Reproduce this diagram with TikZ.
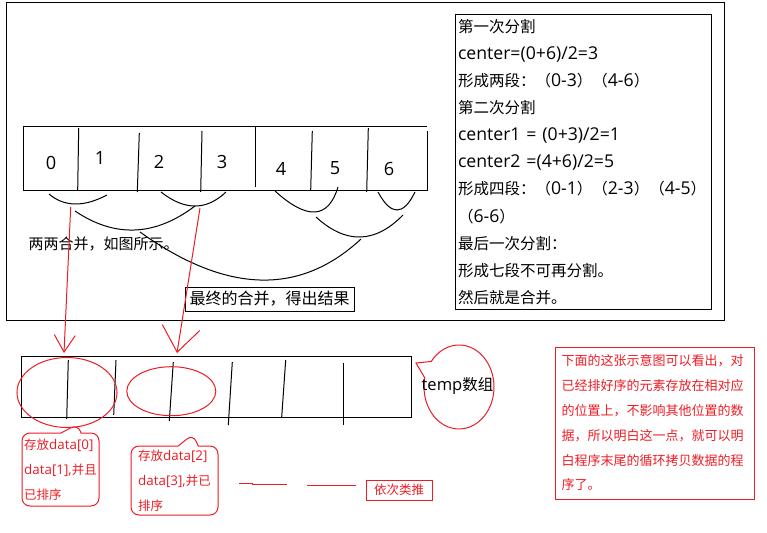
\documentclass[tikz,border=0pt]{standalone}
\usepackage{fontspec}
\setmainfont{Open Sans}[Scale=1.07]
\newfontfamily\zhfont{Noto Sans CJK SC}
\newcommand\zh[1]{{\zhfont #1}}
\newcommand\zhs[1]{{\zhfont\fontsize{15.5}{27.1}\selectfont #1}}
\usetikzlibrary{arrows.meta,shapes.geometric,shapes.callouts}
\definecolor{paintred}{RGB}{237,28,36}
\begin{document}
\begin{tikzpicture}[x=1pt,y=-1pt,line width=1pt,
        digit/.style={font=\fontsize{17}{17}\selectfont},
        redline/.style={draw=paintred},
        bubble/.style={rectangle callout,draw=paintred,rounded corners=8pt,callout pointer width=20pt,
            inner sep=0pt,text=paintred,align=left,font=\fontsize{12.5}{25}\selectfont}]
        \useasboundingbox (0,0) rectangle (767,532);
        \draw (6,3) rectangle (724,320);
        \node[draw,minimum width=256pt,minimum height=294pt,text width=250pt,inner xsep=3pt,align=left,
            font=\fontsize{16.5}{27.1}\selectfont] (steps) at (583,162)
            {\zhs{第一次分割}\\center=(0+6)/2=3\\\zhs{形成两段：（}0-3\zhs{）（}4-6\zhs{）}\\\zhs{第二次分割}\\center1 = (0+3)/2=1\\center2 =(4+6)/2=5\\\mbox{\zhs{形成四段：（}0-1\zhs{）（}2-3\zhs{）（}4-5\zhs{）}}\\\zhs{（}6-6\zhs{）}\\\zhs{最后一次分割：}\\\zhs{形成七段不可再分割。}\\\zhs{然后就是合并。}};
        \draw (427,131) -- (427,190) -- (23,190) -- (23,126) -- (427,126);
        \foreach \xa/\ya/\xb/\yb in {78.7/128/77.7/190, 139.3/133/137.3/192, 202/131/200.7/192,
            255/127/255/187, 312.3/131/310.7/190, 368.3/128/366.7/192}
            \draw (\xa,\ya) -- (\xb,\yb);
        \foreach \d/\x/\y in {0/51/163, 1/100/158, 2/159/162, 3/222/162, 4/281/169, 5/335/168, 6/389/169}
            \node[digit] (cell\d) at (\x,\y) {\d};
        \draw (49,194) .. controls (64.3,207) and (83.7,207.3) .. (107,195);
        \draw (161,192) .. controls (184.7,210.7) and (206.3,210.7) .. (226,192);
        \draw (275,191) .. controls (307.3,220.3) and (328.3,219) .. (338,187);
        \draw (378,192) .. controls (391,216) and (403.3,216) .. (415,192);
        \draw (75,211) .. controls (115,238) and (155,236.3) .. (195,206);
        \draw (316,217) .. controls (345.7,244.3) and (375,243.7) .. (403,215);
        \draw (140,232) .. controls (226.3,293.7) and (299.7,296) .. (361,239);
        \node[anchor=west,inner sep=0pt,font=\zhfont\fontsize{15}{15}\selectfont] (pairs) at (28,244) {两两合并，如图所示。};
        \node[draw,minimum width=169pt,minimum height=24pt,inner sep=0pt,font=\zhfont\fontsize{16}{16}\selectfont] (final) at (269.5,299) {最终的合并，得出结果};
        \coordinate (join01) at (70.7,207);
        \coordinate (join23) at (200,208);
        \coordinate (slot01) at (64,353);
        \coordinate (slot23) at (177,353);
        \draw[redline,-{Straight Barb[length=17pt,width=21pt]}] (join01) -- (slot01);
        \draw[redline,-{Straight Barb[length=25pt,width=38pt]}] (join23) -- (slot23);
        \draw (21,356) rectangle (411,417);
        \foreach \xa/\ya/\xb/\yb in {68.3/360/66.7/419, 116/360/113.7/415, 173.3/362/169.3/421,
            232.3/362/228.3/425, 285.7/360/281.7/417, 343.3/363/343.3/425}
            \draw (\xa,\ya) -- (\xb,\yb);
        \node[ellipse,draw=paintred,minimum width=100pt,minimum height=70pt] (pair01) at (67,392.5) {};
        \node[ellipse,draw=paintred,minimum width=89pt,minimum height=49pt] (pair23) at (171.3,391.2) {};
        \node[bubble,minimum width=77pt,minimum height=73pt,callout absolute pointer={(78,424)}] (note01) at (60.5,469.5)
            {\zh{存放}data[0]\\data[1],\zh{并且}\\\zh{已排序}};
        \node[bubble,minimum width=87pt,minimum height=69pt,callout absolute pointer={(193,434)}] (note23) at (174.5,480.5)
            {\zh{存放}data[2]\\data[3],\zh{并已}\\\zh{排序}};
        \draw[redline] (239,483.3) -- (252,483.3) -- (252,484.7) -- (287,484.7);
        \draw[redline] (307,485) -- (356,485);
        \node[draw=paintred,text=paintred,minimum width=66pt,minimum height=20pt,inner sep=0pt,
            font=\zhfont\fontsize{12.5}{12.5}\selectfont] (etc) at (399,490) {依次类推};
        \node[ellipse callout,draw=paintred,minimum width=70pt,minimum height=84pt,inner sep=0pt,
            callout absolute pointer={(416,363)},callout pointer arc=25] (tempbubble) at (459,387) {};
        \node[font=\fontsize{15.5}{15.5}\selectfont] (templabel) at (457.5,386) {temp\zh{数组}};
        \node[draw=paintred,text=paintred,minimum width=199pt,minimum height=152pt,text width=186pt,inner sep=0pt,
            align=left,font=\zhfont\fontsize{13}{24.8}\selectfont] (remark) at (654.5,423)
            {下面的这张示意图可以看出，对\\已经排好序的元素存放在相对应\\的位置上，不影响其他位置的数\\据，所以明白这一点，就可以明\\白程序末尾的循环拷贝数据的程\\序了。};
    \end{tikzpicture}
\end{document}
